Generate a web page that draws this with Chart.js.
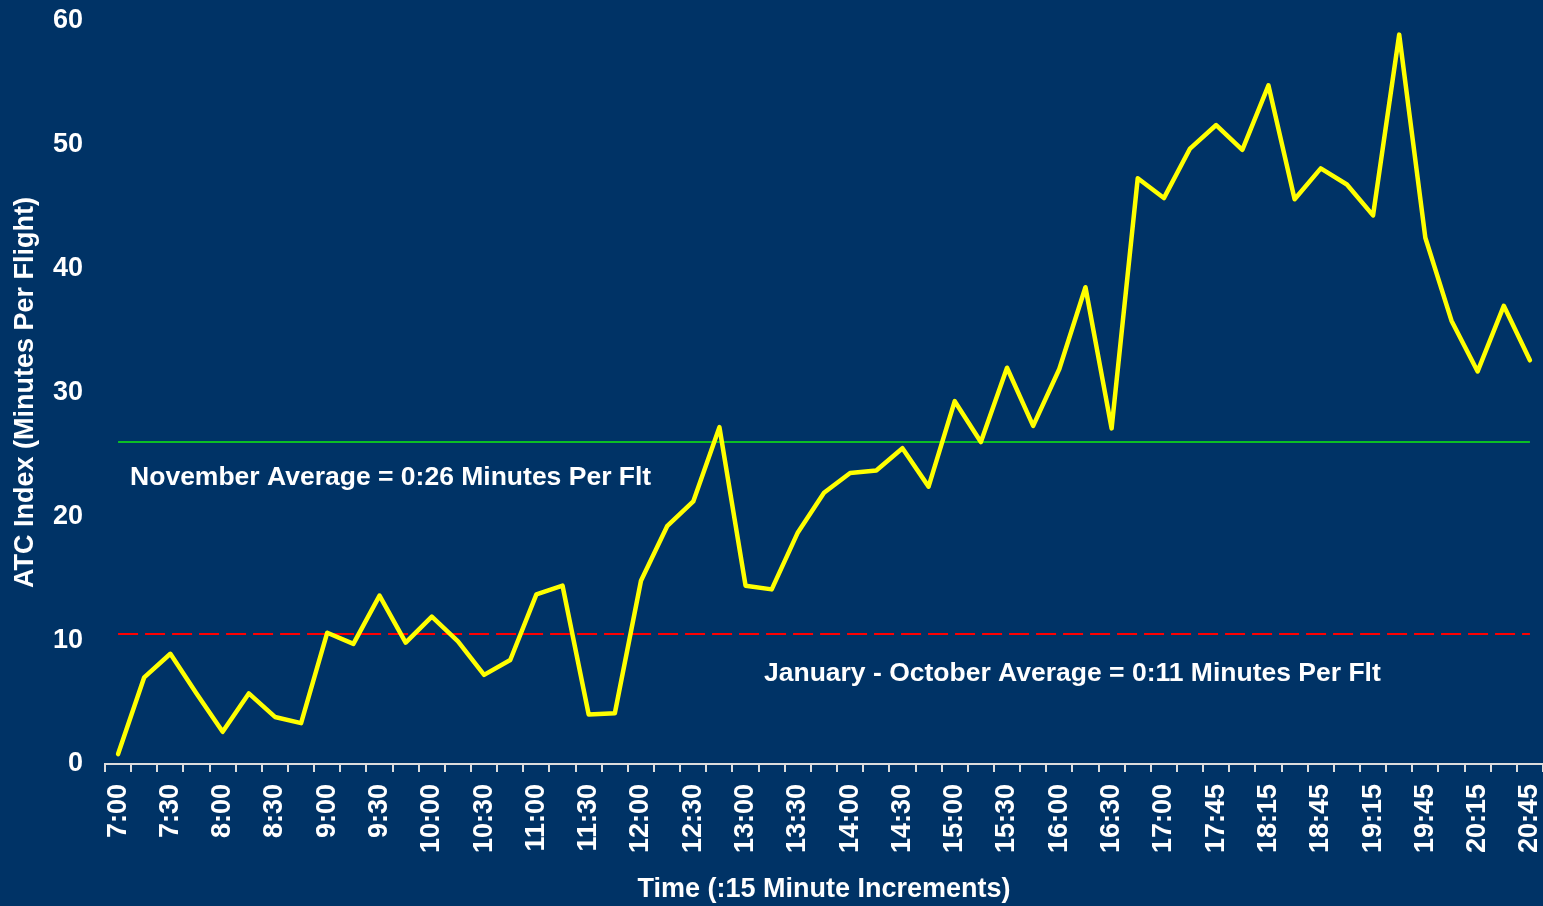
<!DOCTYPE html>
<html>
<head>
<meta charset="utf-8">
<script src="https://cdn.jsdelivr.net/npm/chart.js@4"></script>
<style>
  html, body { margin: 0; padding: 0; background: #003366; }
  #wrap { width: 1543px; height: 906px; }
</style>
</head>
<body>
<div id="wrap"><canvas id="atcChart"></canvas></div>
<script>
// time slots (:15 increments) - note only one slot between 17:00 and 17:45
const timeSlots = [
  '7:00','7:15','7:30','7:45','8:00','8:15','8:30','8:45','9:00','9:15',
  '9:30','9:45','10:00','10:15','10:30','10:45','11:00','11:15','11:30','11:45',
  '12:00','12:15','12:30','12:45','13:00','13:15','13:30','13:45','14:00','14:15',
  '14:30','14:45','15:00','15:15','15:30','15:45','16:00','16:15','16:30','16:45',
  '17:00','17:30','17:45','18:00','18:15','18:30','18:45','19:00','19:15','19:30',
  '19:45','20:00','20:15','20:30','20:45'
]
const atcIndex = [
  0.8, 7.0, 8.9, 5.7, 2.6, 5.7, 3.8, 3.3, 10.6, 9.7,
  13.6, 9.8, 11.9, 9.9, 7.2, 8.4, 13.7, 14.4, 4.0, 4.1,
  14.8, 19.2, 21.2, 27.2, 14.4, 14.1, 18.7, 21.9, 23.5, 23.7,
  25.5, 22.4, 29.3, 26.0, 32.0, 27.3, 31.9, 38.5, 27.1, 47.3,
  45.7, 49.7, 51.6, 49.6, 54.8, 45.6, 48.1, 46.8, 44.3, 58.9,
  42.5, 35.8, 31.7, 37.0, 32.6
]
const novemberAvg = 26
const janOctAvg = 10.5
const yTicks = [0, 10, 20, 30, 40, 50, 60]

const FONT = "'Liberation Sans', Arial, sans-serif"

// average labels, placed through the chart scales
const avgLabels = {
  id: 'avgLabels',
  afterDatasetsDraw(chart) {
    const {ctx, scales: {x, y}} = chart
    ctx.save()
    ctx.fillStyle = '#ffffff'
    ctx.font = 'bold 26.5px ' + FONT
    ctx.textBaseline = 'middle'
    ctx.textAlign = 'left'
    ctx.fillText('November Average = 0:26 Minutes Per Flt',
      x.getPixelForValue(0) + 12, y.getPixelForValue(23.1))
    ctx.textAlign = 'center'
    ctx.fillText('January - October Average = 0:11 Minutes Per Flt',
      (x.getPixelForValue(36) + x.getPixelForValue(37)) / 2, y.getPixelForValue(7.3))
    ctx.restore()
  }
}

new Chart(document.getElementById('atcChart'), {
  type: 'line',
  data: {
    labels: timeSlots,
    datasets: [{
      label: 'ATC Index',
      data: atcIndex,
      borderColor: '#ffff00',
      borderWidth: 4.5,
      borderJoinStyle: 'round',
      borderCapStyle: 'round',
      pointRadius: 0,
      tension: 0,
      order: 0
    }, {
      label: 'November Average',
      data: timeSlots.map(() => novemberAvg),
      borderColor: '#11ee11',
      borderWidth: 1.5,
      pointRadius: 0,
      order: 1
    }, {
      label: 'January - October Average',
      data: timeSlots.map(() => janOctAvg),
      borderColor: '#ff0000',
      borderWidth: 2,
      borderDash: [20, 7],
      pointRadius: 0,
      order: 2
    }]
  },
  options: {
    responsive: true,
    maintainAspectRatio: false,
    animation: false,
    layout: { padding: { top: 21, right: 0, left: 0, bottom: 0 } },
    plugins: {
      legend: { display: false },
      tooltip: { enabled: false }
    },
    scales: {
      x: {
        offset: true,
        border: { display: true, color: '#dddddd', width: 2 },
        grid: { display: true, drawOnChartArea: false, offset: true, tickLength: 8, color: '#dddddd', lineWidth: 2 },
        ticks: {
          autoSkip: false,
          minRotation: 90,
          maxRotation: 90,
          padding: 12,
          color: '#ffffff',
          font: { family: FONT, size: 27, weight: 'bold' },
          callback: function(val, i) { return i % 2 === 0 ? this.getLabelForValue(val) : '' }
        },
        title: {
          display: true,
          text: 'Time (:15 Minute Increments)',
          color: '#ffffff',
          font: { family: FONT, size: 27, weight: 'bold' },
          padding: { top: 4, bottom: 0 }
        },
        afterFit: s => { s.height = 142; s.paddingLeft = 0; s.paddingRight = 0 }
      },
      y: {
        min: 0,
        max: 60,
        afterBuildTicks: s => { s.ticks = yTicks.map(v => ({ value: v })) },
        border: { display: false },
        grid: { display: false, drawTicks: false },
        ticks: {
          padding: 22,
          color: '#ffffff',
          font: { family: FONT, size: 27, weight: 'bold' }
        },
        title: {
          display: true,
          text: 'ATC Index (Minutes Per Flight)',
          color: '#ffffff',
          font: { family: FONT, size: 27, weight: 'bold' },
          padding: { top: 9, bottom: 4 }
        },
        afterFit: s => { s.width = 105; s.paddingTop = 0; s.paddingBottom = 0 }
      }
    }
  },
  plugins: [avgLabels]
})
</script>
</body>
</html>
